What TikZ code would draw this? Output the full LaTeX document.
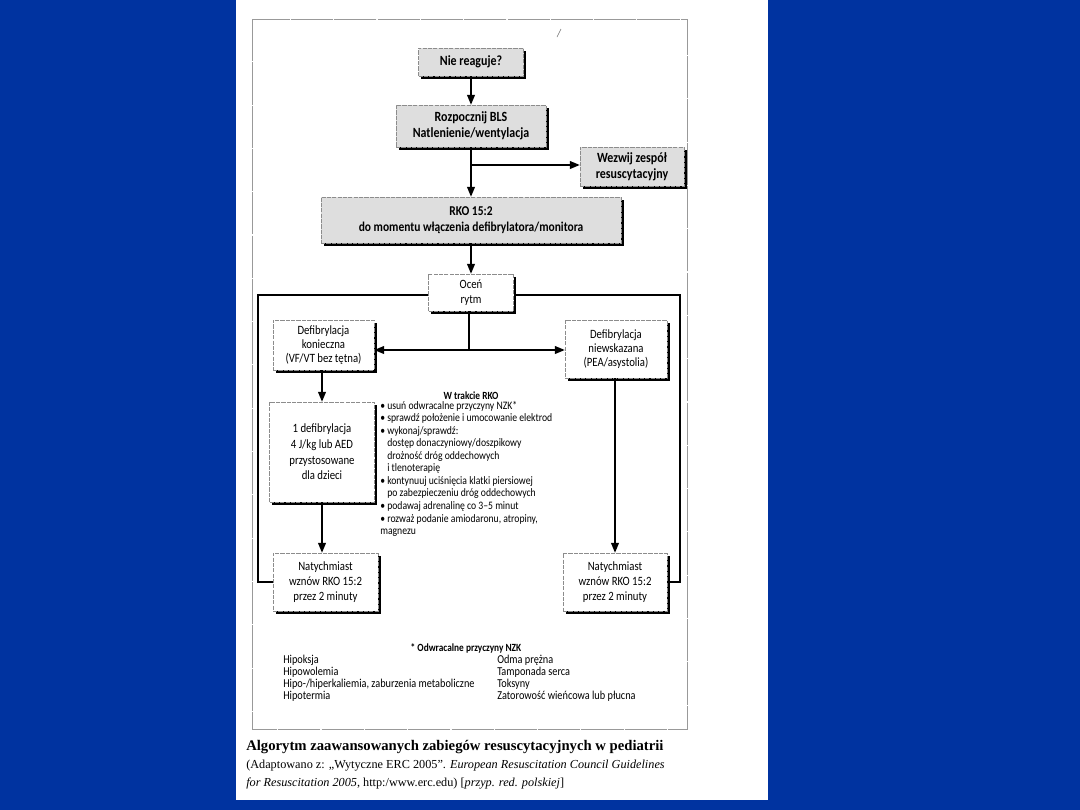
\documentclass[tikz,border=0pt]{standalone}
\usepackage{fontspec}
\setmainfont{Carlito}[FakeStretch=0.85]
\newfontfamily\capfont{Liberation Serif}
\usetikzlibrary{shadows,arrows.meta}
\definecolor{bg}{RGB}{0,51,160}
\begin{document}
\begin{tikzpicture}[x=0.025cm,y=-0.025cm,
  sz/.style 2 args={minimum width=#1*0.025cm, minimum height=#2*0.025cm},
  box/.style={draw=black!45, line width=0.4pt, dash pattern=on 3pt off 0.8pt, align=center, inner sep=0pt,
    drop shadow={shadow xshift=2pt, shadow yshift=-2pt, opacity=1, fill=black, draw=none}},
  gbox/.style={box, fill=black!13, font=\bfseries\fontsize{10}{11.3}\selectfont},
  wbox/.style={box, fill=white, font=\fontsize{9}{10.6}\selectfont},
  arr/.style={line width=0.8pt, -{Triangle[length=7pt,width=5.6pt]}},
  ln/.style={line width=0.8pt},
  txt/.style={inner sep=0pt, align=left}]
\fill[bg] (0,0) rectangle (1080,810);
\fill[white] (236,0) rectangle (768,800);
\draw[black!40, line width=0.5pt, dash pattern=on 30pt off 0.8pt] (252,19) rectangle (687,729);
\draw[black!55, line width=0.4pt] (557,37) -- (561,29);

\node[gbox, sz={105}{28}] (nie) at (471,62) {Nie reaguje?};
\node[gbox, sz={150}{42}] (bls) at (471,126) {Rozpocznij BLS\\Natlenienie/wentylacja};
\node[gbox, sz={104}{39}] (wez) at (632,166.5) {Wezwij zespół\\resuscytacyjny};
\node[gbox, sz={300}{46}, font=\bfseries\fontsize{9.6}{11.3}\selectfont] (rko) at (471,220) {RKO 15:2\\do momentu włączenia defibrylatora/monitora};
\node[wbox, sz={85}{37}] (ocen) at (471,292.5) {Oceń\\rytm};
\node[wbox, sz={101}{50}, font=\fontsize{9}{10}\selectfont] (dk) at (323.5,345) {Defibrylacja\\konieczna\\(VF/VT bez tętna)};
\node[wbox, sz={102}{58}, font=\fontsize{9}{10}\selectfont] (dn) at (616,349) {Defibrylacja\\niewskazana\\(PEA/asystolia)};
\node[wbox, sz={105}{100}, font=\fontsize{9}{11.2}\selectfont] (d1) at (322,452) {1 defibrylacja\\4 J/kg lub AED\\przystosowane\\dla dzieci};
\node[wbox, sz={105}{58}] (nl) at (325.5,582) {Natychmiast\\wznów RKO 15:2\\przez 2 minuty};
\node[wbox, sz={104}{58}] (nr) at (615,582) {Natychmiast\\wznów RKO 15:2\\przez 2 minuty};

\draw[arr] (nie.south) -- (nie.south |- bls.north);
\draw[arr] (bls.south) -- (bls.south |- rko.north);
\coordinate (br) at (471,165);
\draw[arr] (br) -- (br -| wez.west);
\draw[arr] (rko.south) -- (rko.south |- ocen.north);
\coordinate (sp) at (469,350);
\draw[ln] (ocen.south -| sp) -- (sp);
\draw[arr] (sp) -- (sp -| dk.east);
\draw[arr] (sp) -- (sp -| dn.west);
\draw[arr] (dk.south -| d1.north) -- (d1.north);
\draw[arr] (d1.south) -- (d1.south |- nl.north);
\draw[arr] (nr.north |- dn.south) -- (nr.north);
\coordinate (ll) at (258,295);
\coordinate (rl) at (680,295);
\draw[ln] (nl.west) -| (ll) -- (ll -| ocen.west);
\draw[ln] (nr.east) -| (rl) -- (rl -| ocen.east);

\node[txt, font=\bfseries\fontsize{7.8}{8.86}\selectfont] (wt) at (471,396) {W trakcie RKO};
\node[txt, anchor=north west, font=\fontsize{8.1}{8.9}\selectfont] (list) at (380,401) {%
\textbullet\ usuń odwracalne przyczyny NZK*\\
\textbullet\ sprawdź położenie i umocowanie elektrod\\
\textbullet\ wykonaj/sprawdź:\\
\hphantom{\textbullet\ }dostęp donaczyniowy/doszpikowy\\
\hphantom{\textbullet\ }drożność dróg oddechowych\\
\hphantom{\textbullet\ }i tlenoterapię\\
\textbullet\ kontynuuj uciśnięcia klatki piersiowej\\
\hphantom{\textbullet\ }po zabezpieczeniu dróg oddechowych\\
\textbullet\ podawaj adrenalinę co 3--5 minut\\
\textbullet\ rozważ podanie amiodaronu, atropiny,\\
magnezu};

\node[txt, font=\bfseries\fontsize{7.8}{8.5}\selectfont] (nzk) at (466,648) {* Odwracalne przyczyny NZK};
\node[txt, anchor=north west, font=\fontsize{8.6}{8.6}\selectfont] (nzl) at (283,655) {Hipoksja\\Hipowolemia\\Hipo-/hiperkaliemia, zaburzenia metaboliczne\\Hipotermia};
\node[txt, anchor=north west, font=\fontsize{8.6}{8.6}\selectfont] (nzr) at (497,655) {Odma prężna\\Tamponada serca\\Toksyny\\Zatorowość wieńcowa lub płucna};

\node[txt, anchor=north west, font=\capfont\fontsize{8.7}{12.8}\selectfont] (cap) at (246,740) {%
{\bfseries\fontsize{10.45}{12.8}\selectfont Algorytm zaawansowanych zabiegów resuscytacyjnych w pediatrii}\\
(Adaptowano z: „Wytyczne ERC 2005”. \textit{European Resuscitation Council Guidelines}\\
\textit{for Resuscitation 2005}, http:/www.erc.edu) [\textit{przyp. red. polskiej}]};
\end{tikzpicture}
\end{document}
